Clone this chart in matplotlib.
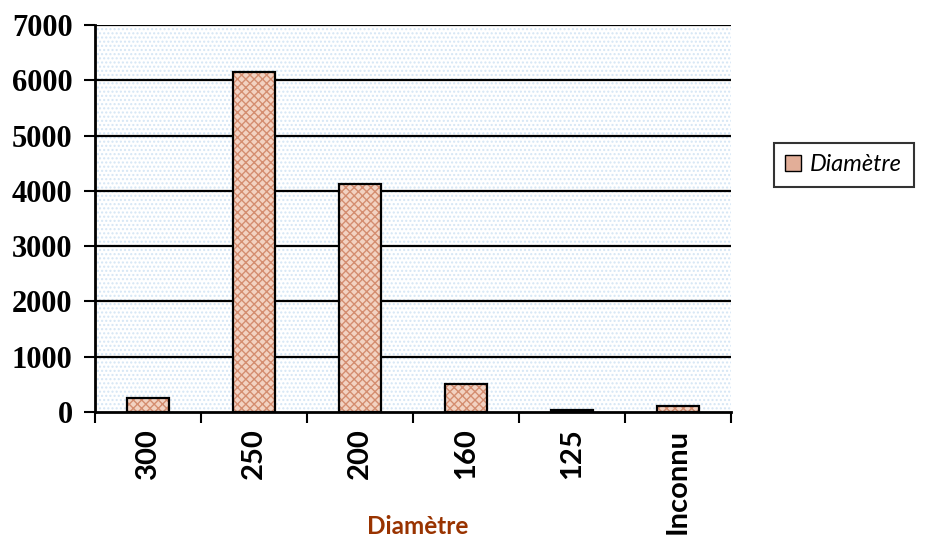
import matplotlib.pyplot as plt
import numpy as np
from matplotlib.patches import Rectangle, Patch

categories = ['300', '250', '200', '160', '125', 'Inconnu']
counts = [250, 6150, 4120, 510, 30, 110]
yticks = [0, 1000, 2000, 3000, 4000, 5000, 6000, 7000]

fig = plt.figure(figsize=(9.31, 5.37), dpi=100)
ax = fig.add_axes([0.102, 0.233, 0.683, 0.720])

x = np.arange(len(categories))

# dotted light-blue plot background
bg = Rectangle((0, 0), 1, 1, transform=ax.transAxes, facecolor='white',
               edgecolor='#d5e6f5', hatch='....', linewidth=0, zorder=0)
ax.add_patch(bg)

for y in yticks[1:]:
    ax.axhline(y, color='black', linewidth=1.6, zorder=1)

# checkered salmon fill + black outline
ax.bar(x, counts, width=0.4, color='#f2d2c2', edgecolor='#d48d70',
       hatch='xxxx', linewidth=0, zorder=2)
ax.bar(x, counts, width=0.4, fill=False, edgecolor='black',
       linewidth=1.6, zorder=3)

ax.set_xlim(-0.5, len(categories) - 0.5)
ax.set_ylim(0, 7000)
ax.set_yticks(yticks)
ax.set_yticklabels([str(v) for v in yticks], fontfamily='Liberation Serif',
                   fontweight='bold', fontsize=22)
ax.set_xticks(x)
ax.set_xticklabels(categories, rotation=90, fontfamily='Lato',
                   fontweight='bold', fontsize=21)
ax.set_xticks(np.arange(len(categories) + 1) - 0.5, minor=True)
ax.tick_params(axis='x', which='major', length=0, pad=12)
ax.tick_params(axis='x', which='minor', length=8, width=1.5, direction='out')
ax.tick_params(axis='y', length=8, width=1.5, direction='out', pad=8)

for s in ['top', 'right']:
    ax.spines[s].set_visible(False)
ax.spines['left'].set_linewidth(2)
ax.spines['bottom'].set_linewidth(2)

fig.text(418 / 931, 1 - 527 / 537, 'Diamètre', fontfamily='Lato',
         fontweight='bold', fontsize=17.5, color='#993300',
         ha='center', va='center')

handle = Patch(facecolor='#e2ae98', edgecolor='black', linewidth=1)
leg = fig.legend([handle], ['Diamètre'], loc='center left',
                 bbox_to_anchor=(0.831, 0.693), frameon=True, fancybox=False,
                 prop={'family': 'Lato', 'style': 'italic', 'size': 17},
                 handlelength=0.65, handleheight=0.65, handletextpad=0.4,
                 borderpad=0.5, borderaxespad=0)
leg.get_frame().set_edgecolor('black')
leg.get_frame().set_linewidth(1.5)

fig.savefig('out.png', dpi=100)
